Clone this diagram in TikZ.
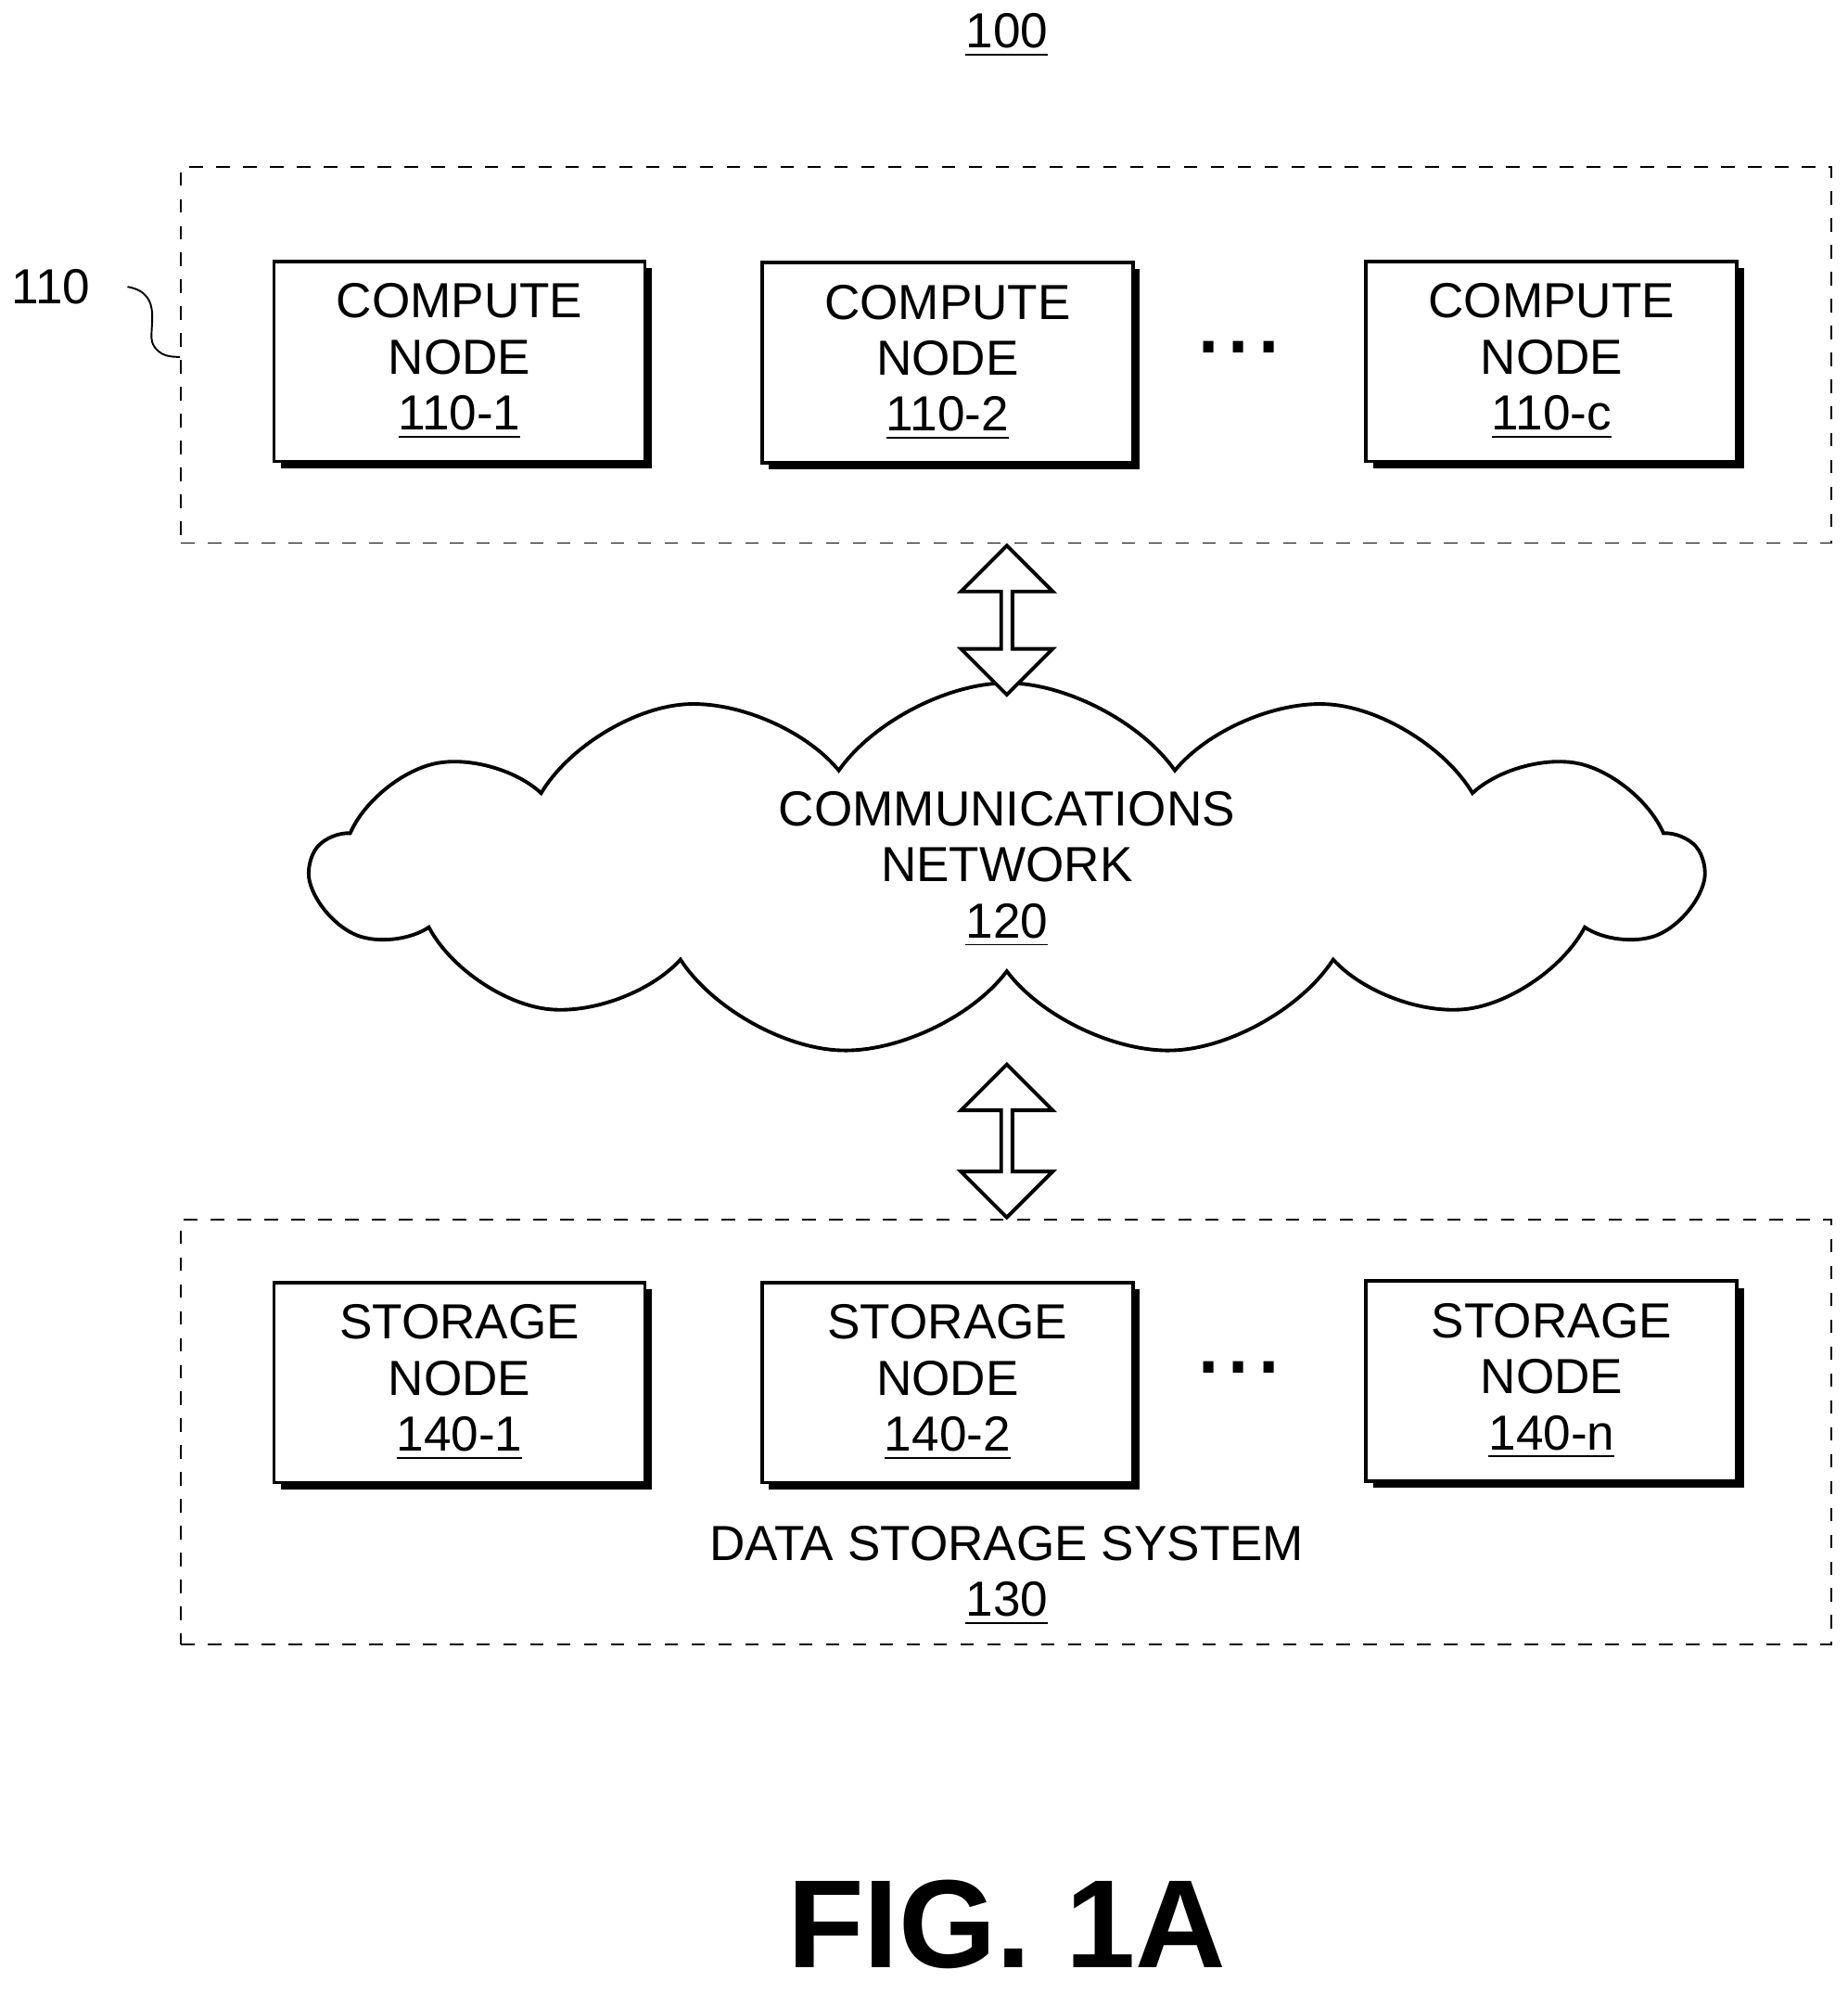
\documentclass[tikz,border=0pt]{standalone}
\usepackage{fontspec}
\setmainfont{Liberation Sans}
\usetikzlibrary{positioning, shapes.symbols, shapes.arrows, shadows, decorations.pathmorphing}

\begin{document}
\begin{tikzpicture}[node distance=3.8cm]
    \tikzstyle{block}=[draw, thick, fill=white, minimum width=2.91cm, minimum height=1.57cm,
        align=center, font=\fontsize{11}{12.5}\selectfont,
        drop shadow={shadow xshift=1.5pt, shadow yshift=-1.5pt, fill=black, opacity=1}]
    \tikzstyle{group}=[draw, dashed, minimum width=12.95cm, inner sep=0pt]
    \tikzstyle{link}=[draw, thick, fill=white, double arrow, rotate=90, minimum width=0.72cm,
        double arrow head extend=0.1cm, inner sep=0pt]

    \useasboundingbox (0,0) rectangle (14.5,-15.65);

    \node (fig) at (7.9,-0.28) {\fontsize{11}{13}\selectfont\underline{100}};

    % compute side
    \node[group, minimum height=2.95cm] (C) at (7.895,-2.785) {};
    \node[block] (C1) at (3.605,-2.835) {COMPUTE\\NODE\\\underline{110-1}};
    \node[block] (C2) at (7.435,-2.845) {COMPUTE\\NODE\\\underline{110-2}};
    \node[block] (C3) at (12.175,-2.835) {COMPUTE\\NODE\\\underline{110-c}};
    \node[font=\fontsize{24}{24}\selectfont] (dotsC) at (9.72,-2.72) {...};
    \node[font=\fontsize{11}{13}\selectfont] (lbl) at (0.4,-2.25) {110};
    \draw (1.0,-2.25) .. controls (1.3,-2.3) and (1.15,-2.6) .. (1.2,-2.7) .. controls (1.25,-2.8) and (1.35,-2.8) .. (C.west |- 0,-2.8);

    % network
    \node[draw, thick, cloud, cloud puffs=13, cloud puff arc=110, aspect=3.6,
        minimum width=10.9cm, minimum height=2.9cm, align=center,
        font=\fontsize{11}{12.5}\selectfont] (N) at (7.9,-6.82)
        {COMMUNICATIONS\\NETWORK\\\underline{120}};

    % storage side
    \node[group, minimum height=3.33cm] (S) at (7.895,-11.235) {};
    \node[block] (S1) at (3.605,-10.845) {STORAGE\\NODE\\\underline{140-1}};
    \node[block] (S2) at (7.435,-10.845) {STORAGE\\NODE\\\underline{140-2}};
    \node[block] (S3) at (12.175,-10.835) {STORAGE\\NODE\\\underline{140-n}};
    \node[font=\fontsize{24}{24}\selectfont] (dotsS) at (9.72,-10.73) {...};
    \node[align=center, font=\fontsize{11}{12.5}\selectfont] (dss) at (7.9,-12.36)
        {DATA STORAGE SYSTEM\\\underline{130}};

    % links
    \node[link, minimum height=1.17cm] (L1) at (7.9,-4.865) {};
    \node[link, minimum height=1.2cm] (L2) at (7.9,-8.95) {};

    \node[font=\bfseries\fontsize{28}{28}\selectfont] (cap) at (7.9,-15.1) {FIG. 1A};
\end{tikzpicture}
\end{document}
